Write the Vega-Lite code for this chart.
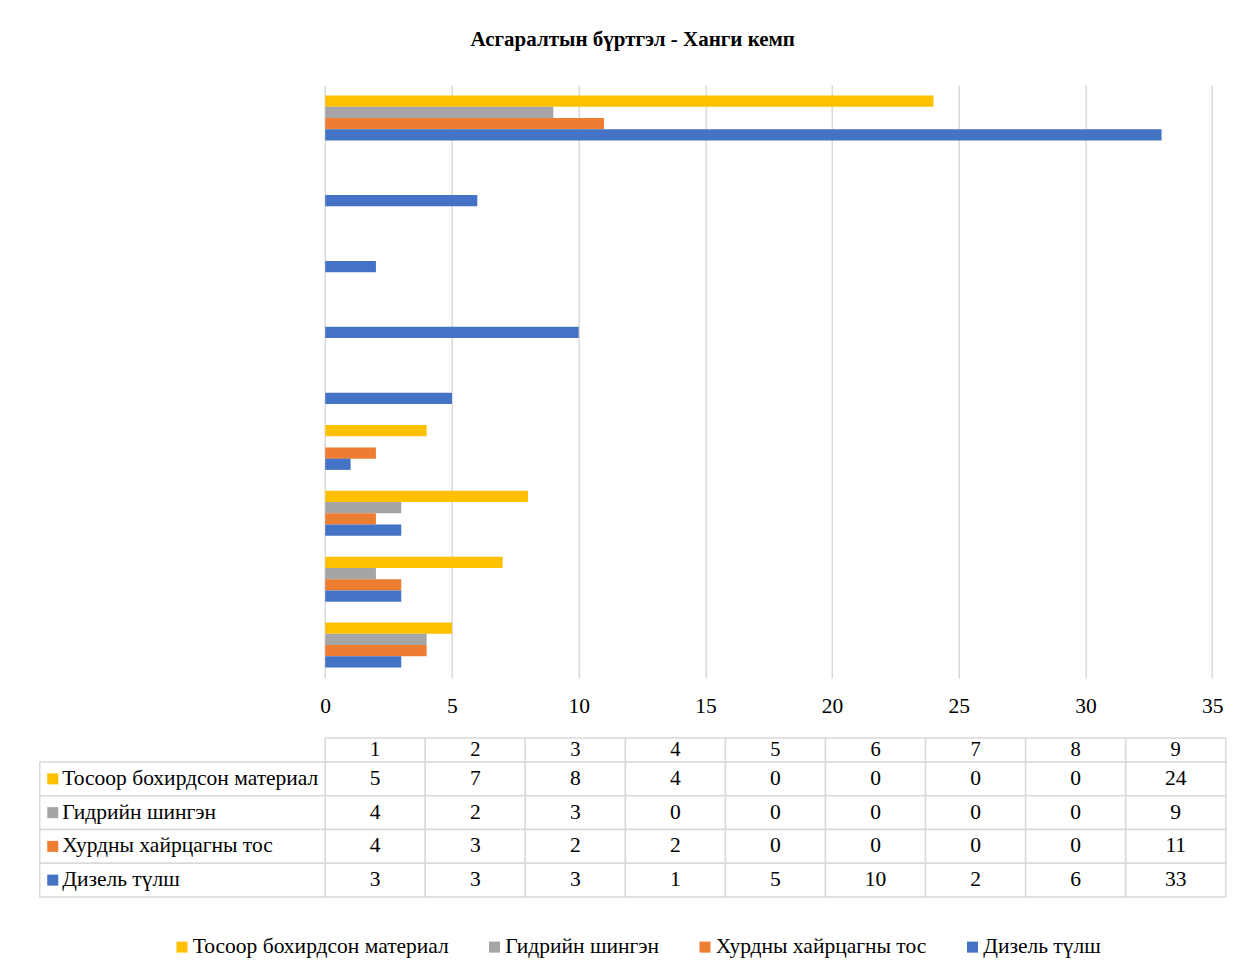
{
  "$schema": "https://vega.github.io/schema/vega-lite/v6.json",
  "padding": {"left": 38.75, "top": 29, "right": 10, "bottom": 10},
  "background": "white",
  "title": {
    "text": "Асгаралтын бүртгэл - Ханги кемп",
    "font": "Liberation Serif",
    "fontSize": 21,
    "fontWeight": "bold",
    "color": "#000000",
    "anchor": "middle",
    "offset": 35
  },
  "config": {
    "view": {"stroke": null},
    "font": "Liberation Serif"
  },
  "datasets": {
    "d": [
      {"cat": 1, "series": "Тосоор бохирдсон материал", "value": 5},
      {"cat": 1, "series": "Гидрийн шингэн", "value": 4},
      {"cat": 1, "series": "Хурдны хайрцагны тос", "value": 4},
      {"cat": 1, "series": "Дизель түлш", "value": 3},
      {"cat": 2, "series": "Тосоор бохирдсон материал", "value": 7},
      {"cat": 2, "series": "Гидрийн шингэн", "value": 2},
      {"cat": 2, "series": "Хурдны хайрцагны тос", "value": 3},
      {"cat": 2, "series": "Дизель түлш", "value": 3},
      {"cat": 3, "series": "Тосоор бохирдсон материал", "value": 8},
      {"cat": 3, "series": "Гидрийн шингэн", "value": 3},
      {"cat": 3, "series": "Хурдны хайрцагны тос", "value": 2},
      {"cat": 3, "series": "Дизель түлш", "value": 3},
      {"cat": 4, "series": "Тосоор бохирдсон материал", "value": 4},
      {"cat": 4, "series": "Гидрийн шингэн", "value": 0},
      {"cat": 4, "series": "Хурдны хайрцагны тос", "value": 2},
      {"cat": 4, "series": "Дизель түлш", "value": 1},
      {"cat": 5, "series": "Тосоор бохирдсон материал", "value": 0},
      {"cat": 5, "series": "Гидрийн шингэн", "value": 0},
      {"cat": 5, "series": "Хурдны хайрцагны тос", "value": 0},
      {"cat": 5, "series": "Дизель түлш", "value": 5},
      {"cat": 6, "series": "Тосоор бохирдсон материал", "value": 0},
      {"cat": 6, "series": "Гидрийн шингэн", "value": 0},
      {"cat": 6, "series": "Хурдны хайрцагны тос", "value": 0},
      {"cat": 6, "series": "Дизель түлш", "value": 10},
      {"cat": 7, "series": "Тосоор бохирдсон материал", "value": 0},
      {"cat": 7, "series": "Гидрийн шингэн", "value": 0},
      {"cat": 7, "series": "Хурдны хайрцагны тос", "value": 0},
      {"cat": 7, "series": "Дизель түлш", "value": 2},
      {"cat": 8, "series": "Тосоор бохирдсон материал", "value": 0},
      {"cat": 8, "series": "Гидрийн шингэн", "value": 0},
      {"cat": 8, "series": "Хурдны хайрцагны тос", "value": 0},
      {"cat": 8, "series": "Дизель түлш", "value": 6},
      {"cat": 9, "series": "Тосоор бохирдсон материал", "value": 24},
      {"cat": 9, "series": "Гидрийн шингэн", "value": 9},
      {"cat": 9, "series": "Хурдны хайрцагны тос", "value": 11},
      {"cat": 9, "series": "Дизель түлш", "value": 33}
    ]
  },
  "vconcat": [
    {
      "width": 1186,
      "height": 593,
      "data": {"name": "d"},
      "mark": {"type": "bar"},
      "encoding": {
        "y": {
          "field": "cat",
          "type": "ordinal",
          "sort": "descending",
          "scale": {"paddingInner": 0.317, "paddingOuter": 0.1585},
          "axis": null
        },
        "yOffset": {
          "field": "series",
          "type": "nominal",
          "scale": {"domain": ["Тосоор бохирдсон материал", "Гидрийн шингэн", "Хурдны хайрцагны тос", "Дизель түлш"]}
        },
        "x": {
          "field": "value",
          "type": "quantitative",
          "stack": null,
          "scale": {"domain": [-11.265, 35.533], "nice": false, "zero": false},
          "axis": {
            "values": [0, 5, 10, 15, 20, 25, 30, 35],
            "grid": true,
            "gridColor": "#D9D9D9",
            "gridWidth": 1.5,
            "domain": false,
            "ticks": false,
            "tickSize": 0,
            "title": null,
            "labelFont": "Liberation Serif",
            "labelFontSize": 21.5,
            "labelColor": "#000000",
            "labelPadding": 17
          }
        },
        "x2": {"datum": 0},
        "color": {
          "field": "series",
          "type": "nominal",
          "scale": {
            "domain": ["Тосоор бохирдсон материал", "Гидрийн шингэн", "Хурдны хайрцагны тос", "Дизель түлш"],
            "range": ["#FFC000", "#A5A5A5", "#ED7D31", "#4472C4"]
          },
          "legend": {
            "orient": "none",
            "legendX": 131.5,
            "legendY": 851,
            "direction": "horizontal",
            "title": null,
            "symbolType": "square",
            "symbolSize": 121,
            "symbolStrokeWidth": 0,
            "labelFont": "Liberation Serif",
            "labelFontSize": 21.5,
            "labelColor": "#000000",
            "labelLimit": 400,
            "labelOffset": 0,
            "columnPadding": 34.5
          }
        }
      }
    },
    {
      "spacing": 0,
      "bounds": "flush",
      "vconcat": [
        {
          "width": 1186,
          "height": 24,
          "data": {"name": "d"},
          "transform": [{"filter": "datum.series === 'Дизель түлш'"}],
          "encoding": {
            "x": {
              "field": "cat",
              "type": "ordinal",
              "scale": {"type": "band", "domain": ["", 1, 2, 3, 4, 5, 6, 7, 8, 9], "paddingInner": 0, "paddingOuter": 0.9265, "align": 1},
              "axis": null
            }
          },
          "layer": [
            {
              "mark": {"type": "rect", "fill": "white", "stroke": "#D9D9D9", "strokeWidth": 1.5},
              "encoding": {"y": {"datum": "h", "type": "nominal", "scale": {"paddingInner": 0, "paddingOuter": 0}, "axis": null}}
            },
            {
              "mark": {"type": "text", "font": "Liberation Serif", "fontSize": 20.5, "color": "#000000", "baseline": "middle"},
              "encoding": {"text": {"field": "cat"}}
            }
          ]
        },
        {
          "width": 1186,
          "height": 135,
          "data": {"name": "d"},
          "layer": [
            {
              "mark": {"type": "rect", "fill": "white", "stroke": "#D9D9D9", "strokeWidth": 1.5},
              "encoding": {
                "x": {"field": "cat", "type": "ordinal", "scale": {"type": "band", "domain": ["", 1, 2, 3, 4, 5, 6, 7, 8, 9], "paddingInner": 0, "paddingOuter": 0.9265, "align": 1}, "axis": null},
                "y": {"field": "series", "type": "nominal", "scale": {"type": "band", "domain": ["Тосоор бохирдсон материал", "Гидрийн шингэн", "Хурдны хайрцагны тос", "Дизель түлш"], "paddingInner": 0, "paddingOuter": 0}, "axis": null}
              }
            },
            {
              "mark": {"type": "text", "font": "Liberation Serif", "fontSize": 21.5, "color": "#000000", "baseline": "middle"},
              "encoding": {
                "x": {"field": "cat", "type": "ordinal", "scale": {"type": "band", "domain": ["", 1, 2, 3, 4, 5, 6, 7, 8, 9], "paddingInner": 0, "paddingOuter": 0.9265, "align": 1}, "axis": null},
                "y": {"field": "series", "type": "nominal", "axis": null},
                "text": {"field": "value"}
              }
            },
            {
              "transform": [{"filter": "datum.cat === 1"}],
              "mark": {"type": "rect", "fill": "white", "stroke": "#D9D9D9", "strokeWidth": 1.5},
              "encoding": {
                "x": {"datum": 0, "type": "quantitative", "scale": {"domain": [0, 11.853], "nice": false}, "axis": null},
                "x2": {"datum": 2.853},
                "y": {"field": "series", "type": "nominal", "axis": null}
              }
            },
            {
              "transform": [{"filter": "datum.cat === 1"}],
              "mark": {"type": "point", "shape": "square", "filled": true, "size": 121, "opacity": 1, "xOffset": 13},
              "encoding": {
                "x": {"datum": 0, "type": "quantitative", "scale": {"domain": [0, 11.853], "nice": false}, "axis": null},
                "y": {"field": "series", "type": "nominal", "axis": null},
                "color": {"field": "series", "type": "nominal"}
              }
            },
            {
              "transform": [{"filter": "datum.cat === 1"}],
              "mark": {"type": "text", "align": "left", "dx": 22.5, "font": "Liberation Serif", "fontSize": 21.5, "color": "#000000", "baseline": "middle"},
              "encoding": {
                "x": {"datum": 0, "type": "quantitative", "scale": {"domain": [0, 11.853], "nice": false}, "axis": null},
                "y": {"field": "series", "type": "nominal", "axis": null},
                "text": {"field": "series"}
              }
            }
          ],
          "resolve": {"scale": {"x": "independent"}}
        }
      ]
    }
  ],
  "spacing": 20
}
